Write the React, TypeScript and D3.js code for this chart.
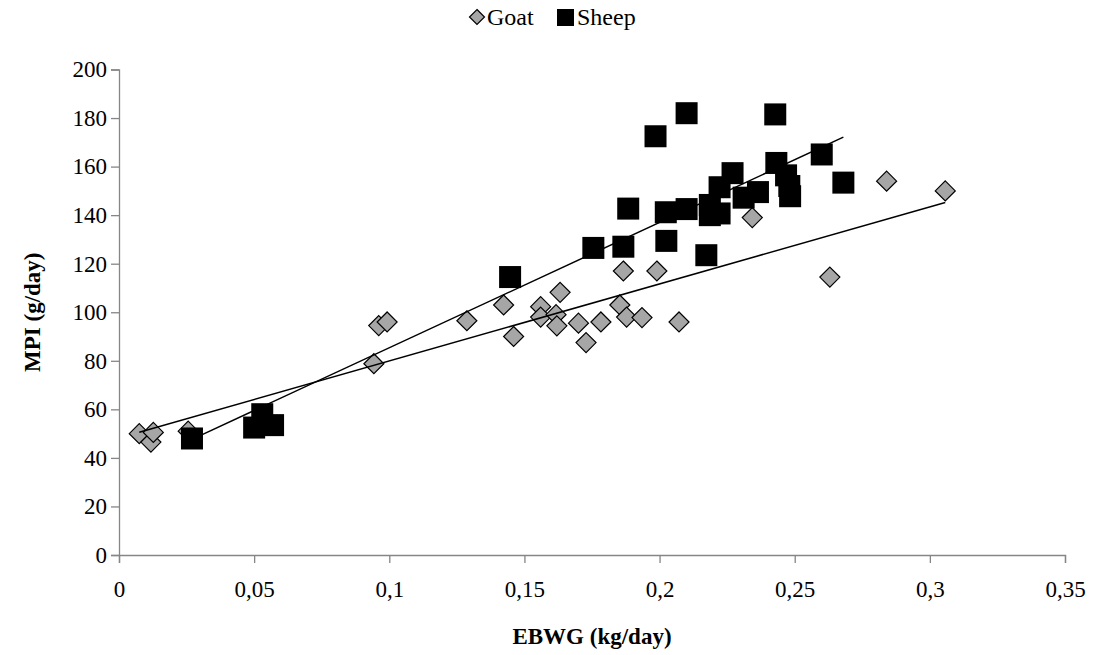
import React, { useEffect, useRef } from 'react';
import * as d3 from 'd3';

// Goat observations (EBWG kg/day, MPI g/day)
const goatX = [0.0075, 0.0118, 0.0127, 0.0256, 0.0943, 0.0961, 0.0992, 0.1287, 0.1423, 0.146, 0.156, 0.156, 0.1617, 0.162, 0.1632, 0.17, 0.1728, 0.1783, 0.1853, 0.1866, 0.1878, 0.1935, 0.199, 0.2072, 0.2343, 0.263, 0.284, 0.3057];
const goatY = [50, 46.5, 50.5, 51, 78.8, 94.5, 96, 96.5, 103, 90, 102.3, 98, 99, 94.4, 108.2, 95.5, 87.5, 96, 103, 117, 98, 97.8, 117, 96, 139, 114.5, 154, 150];

// Sheep observations
const sheepX = [0.027, 0.05, 0.053, 0.057, 0.1447, 0.1755, 0.1866, 0.1884, 0.1985, 0.2023, 0.2025, 0.21, 0.21, 0.2173, 0.2186, 0.2186, 0.2222, 0.2222, 0.227, 0.2311, 0.2364, 0.2428, 0.2432, 0.2468, 0.248, 0.2483, 0.26, 0.268];
const sheepY = [48, 52.5, 58, 53.5, 114.5, 126.5, 127, 142.7, 172.5, 141.2, 129.4, 182, 142.5, 123.5, 144.2, 140, 140.7, 151.5, 157.3, 147.2, 149.5, 181.5, 161.5, 156.4, 152, 147.8, 165, 153.4];

const xTicks = [0, 0.05, 0.1, 0.15, 0.2, 0.25, 0.3, 0.35];
const xTickLabels = ['0', '0,05', '0,1', '0,15', '0,2', '0,25', '0,3', '0,35'];
const yTicks = [0, 20, 40, 60, 80, 100, 120, 140, 160, 180, 200];

// least squares line over the x range of a series
const fit = (xs: number[], ys: number[]) => {
  const mx = d3.mean(xs)!;
  const my = d3.mean(ys)!;
  let sxy = 0, sxx = 0;
  xs.forEach((x, i) => { sxy += (x - mx) * (ys[i] - my); sxx += (x - mx) * (x - mx); });
  const b = sxy / sxx;
  const a = my - b * mx;
  const [x0, x1] = d3.extent(xs) as [number, number];
  return [{ x: x0, y: a + b * x0 }, { x: x1, y: a + b * x1 }];
};

const FONT = 'Liberation Serif, DejaVu Serif, serif';

const App = () => {
  const svgRef = useRef<SVGSVGElement>(null);

  useEffect(() => {
    const svg = d3.select(svgRef.current);
    svg.selectAll('*').remove();

    const axisColor = '#868686';
    const left = 119, right = 1065, top = 69.5, bottom = 555;

    const x = d3.scaleLinear().domain([0, 0.35]).range([left, right]);
    const y = d3.scaleLinear().domain([0, 200]).range([bottom, top]);

    svg.attr('width', 1096).attr('height', 655);
    svg.append('rect').attr('width', 1096).attr('height', 655).attr('fill', '#fff');

    // Axes
    const xAxis = svg.append('g')
      .attr('transform', `translate(0,${bottom})`)
      .call(d3.axisBottom(x).tickValues(xTicks).tickSize(8)
        .tickFormat((d, i) => xTickLabels[i]));
    const yAxis = svg.append('g')
      .attr('transform', `translate(${left},0)`)
      .call(d3.axisLeft(y).tickValues(yTicks).tickSize(8));

    [xAxis, yAxis].forEach((g) => {
      g.attr('font-family', FONT).attr('font-size', 23);
      g.select('.domain').attr('stroke', axisColor).attr('stroke-width', 1.3);
      g.selectAll('.tick line').attr('stroke', axisColor).attr('stroke-width', 1.3);
      g.selectAll('.tick text').attr('fill', '#000');
    });
    xAxis.selectAll('.tick text').attr('y', 0).attr('dy', null).attr('transform', 'translate(0,42)');
    yAxis.selectAll('.tick text').attr('x', -12);

    // Axis titles
    svg.append('text')
      .attr('x', (left + right) / 2)
      .attr('y', 644)
      .attr('text-anchor', 'middle')
      .attr('font-family', FONT)
      .attr('font-weight', 'bold')
      .attr('font-size', 23)
      .text('EBWG (kg/day)');
    svg.append('text')
      .attr('transform', `translate(40,${(top + bottom) / 2}) rotate(-90)`)
      .attr('text-anchor', 'middle')
      .attr('font-family', FONT)
      .attr('font-weight', 'bold')
      .attr('font-size', 23)
      .text('MPI (g/day)');

    const goat = goatX.map((v, i) => ({ x: v, y: goatY[i] }));
    const sheep = sheepX.map((v, i) => ({ x: v, y: sheepY[i] }));

    const diamond = (s: number) => `M0,${-s}L${s},0L0,${s}L${-s},0Z`;

    // Goat points
    svg.append('g').selectAll('path')
      .data(goat)
      .join('path')
      .attr('d', diamond(10))
      .attr('transform', (d) => `translate(${x(d.x)},${y(d.y)})`)
      .attr('fill', '#a6a6a6')
      .attr('stroke', '#000')
      .attr('stroke-width', 1.2);

    // Sheep points
    svg.append('g').selectAll('rect')
      .data(sheep)
      .join('rect')
      .attr('x', (d) => x(d.x) - 11)
      .attr('y', (d) => y(d.y) - 11)
      .attr('width', 22)
      .attr('height', 22)
      .attr('fill', '#000');

    // Linear trend lines
    const line = d3.line<{ x: number; y: number }>()
      .x((d) => x(d.x))
      .y((d) => y(d.y));
    [fit(goatX, goatY), fit(sheepX, sheepY)].forEach((pts) => {
      svg.append('path')
        .attr('d', line(pts))
        .attr('fill', 'none')
        .attr('stroke', '#000')
        .attr('stroke-width', 1.5);
    });

    // Legend
    const lg = svg.append('g').attr('font-family', FONT).attr('font-size', 24);
    lg.append('path')
      .attr('d', diamond(7.5))
      .attr('transform', 'translate(477,17)')
      .attr('fill', '#a6a6a6')
      .attr('stroke', '#000')
      .attr('stroke-width', 1.2);
    lg.append('text').attr('x', 487).attr('y', 25).text('Goat');
    lg.append('rect').attr('x', 557).attr('y', 9).attr('width', 17).attr('height', 17).attr('fill', '#000');
    lg.append('text').attr('x', 577).attr('y', 25).text('Sheep');
  }, []);

  return <svg ref={svgRef} style={{ position: 'absolute', left: 0, top: 0 }} />;
};

export default App;
